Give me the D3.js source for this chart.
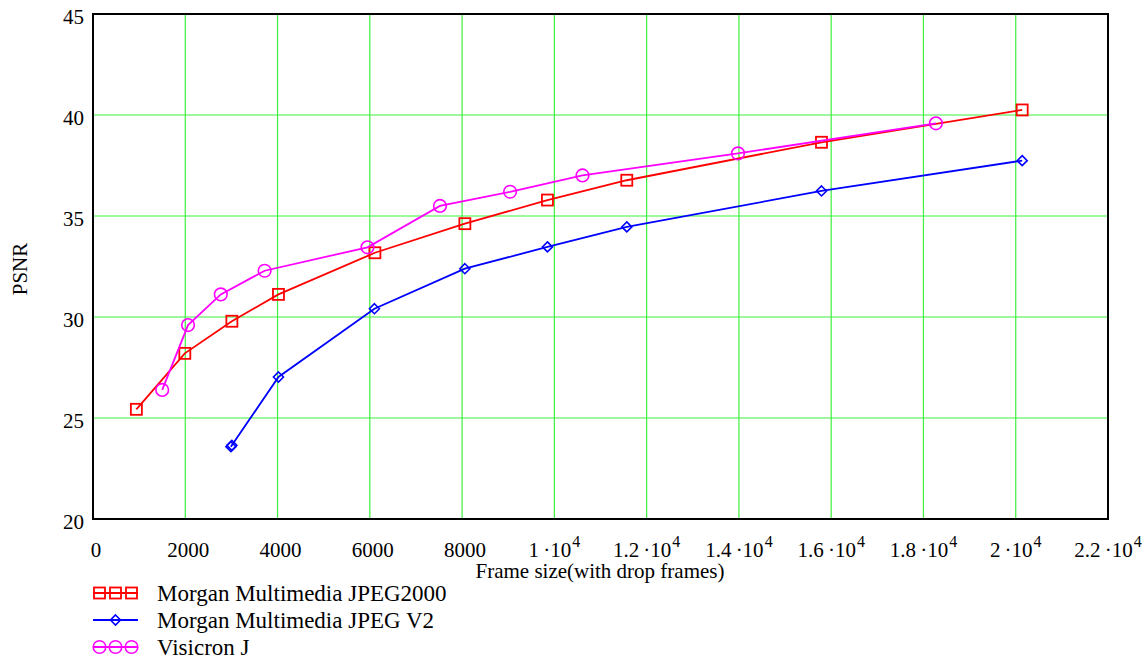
<!DOCTYPE html>
<html>
<head>
<meta charset="utf-8">
<script src="https://cdn.jsdelivr.net/npm/d3@7"></script>
<style>
  html, body { margin: 0; padding: 0; background: #fff; }
  svg { display: block; }
</style>
</head>
<body>
<svg id="chart" width="1144" height="662"></svg>
<script>
// ---- data ----
const seriesNames = ["Morgan Multimedia JPEG2000", "Morgan Multimedia JPEG V2", "Visicron J"];

const jpeg2000X = [940, 1990, 3010, 4020, 6110, 8060, 9850, 11570, 15790, 20140];
const jpeg2000Y = [25.43, 28.2, 29.79, 31.12, 33.18, 34.62, 35.79, 36.77, 38.65, 40.25];

const jpegV2X = [2990, 3010, 4020, 6100, 8060, 9850, 11570, 15790, 20140];
const jpegV2Y = [23.58, 23.65, 27.03, 30.41, 32.39, 33.47, 34.46, 36.24, 37.74];

const visicronX = [1500, 2060, 2770, 3720, 5950, 7520, 9040, 10610, 13980, 18270];
const visicronY = [26.39, 29.6, 31.12, 32.29, 33.45, 35.5, 36.2, 37.01, 38.1, 39.59];

const xTicks = [0, 2000, 4000, 6000, 8000, 10000, 12000, 14000, 16000, 18000, 20000, 22000];
const xTickMantissa = ["0", "2000", "4000", "6000", "8000", "1", "1.2", "1.4", "1.6", "1.8", "2", "2.2"];
const xTickExponent = ["", "", "", "", "", "4", "4", "4", "4", "4", "4", "4"];
const yTicks = [20, 25, 30, 35, 40, 45];

const xTitle = "Frame size(with drop frames)";
const yTitle = "PSNR";

// ---- layout ----
const FONT = "'Liberation Serif'";
const svg = d3.select("#chart");
const x = d3.scaleLinear().domain([0, 22000]).range([93, 1108]);
const y = d3.scaleLinear().domain([20, 45]).range([519, 14]);

const gridColor = "#3cf03c";
const colors = ["#ff0000", "#0000ff", "#ff00ff"];
const shapes = ["square", "diamond", "circle"];

// grid
svg.append("g").selectAll("line").data(xTicks.filter(t => t > 0 && t < 22000)).join("line")
  .attr("x1", d => x(d)).attr("x2", d => x(d))
  .attr("y1", y(20)).attr("y2", y(45))
  .attr("stroke", gridColor).attr("stroke-width", 1.2);
svg.append("g").selectAll("line").data(yTicks.filter(t => t > 20 && t < 45)).join("line")
  .attr("x1", x(0)).attr("x2", x(22000))
  .attr("y1", d => y(d)).attr("y2", d => y(d))
  .attr("stroke", gridColor).attr("stroke-width", 1.2);

// frame
svg.append("rect")
  .attr("x", x(0)).attr("y", y(45))
  .attr("width", x(22000) - x(0)).attr("height", y(20) - y(45))
  .attr("fill", "none").attr("stroke", "#000").attr("stroke-width", 2);

// y tick labels
svg.append("g").selectAll("text").data(yTicks).join("text")
  .attr("x", 84).attr("y", d => y(d) + 10)
  .attr("text-anchor", "end")
  .style("font-family", FONT).style("font-size", "21px")
  .text(d => d);

// x tick labels
const xl = svg.append("g").selectAll("text").data(xTicks).join("text")
  .attr("x", (d, i) => x(d) + (xTickExponent[i] ? 0 : 3)).attr("y", 557)
  .attr("text-anchor", "middle")
  .style("font-family", FONT).style("font-size", "21px");
xl.each(function(d, i) {
  const t = d3.select(this);
  if (xTickExponent[i]) {
    t.append("tspan").text(xTickMantissa[i] + "\u2009\u00b710");
    t.append("tspan").attr("dx", 1).attr("dy", -10).style("font-size", "16px").text(xTickExponent[i]);
  } else {
    t.text(xTickMantissa[i]);
  }
});

// axis titles
svg.append("text").attr("x", 600).attr("y", 578)
  .attr("text-anchor", "middle")
  .style("font-family", FONT).style("font-size", "21px").text(xTitle);
svg.append("text")
  .attr("transform", "translate(27,269) rotate(-90)")
  .attr("text-anchor", "middle")
  .style("font-family", FONT).style("font-size", "21px").text(yTitle);

// series
const allSeries = [
  jpeg2000X.map((v, i) => [v, jpeg2000Y[i]]),
  jpegV2X.map((v, i) => [v, jpegV2Y[i]]),
  visicronX.map((v, i) => [v, visicronY[i]])
];

const line = d3.line().x(d => x(d[0])).y(d => y(d[1]));

function drawMarker(g, shape, cx, cy, color) {
  if (shape === "square") {
    g.append("rect").attr("x", cx - 5.5).attr("y", cy - 5.5).attr("width", 11).attr("height", 11)
      .attr("fill", "none").attr("stroke", color).attr("stroke-width", 1.8);
  } else if (shape === "diamond") {
    g.append("path").attr("d", `M${cx},${cy - 5}L${cx + 5},${cy}L${cx},${cy + 5}L${cx - 5},${cy}Z`)
      .attr("fill", "none").attr("stroke", color).attr("stroke-width", 1.6);
  } else {
    g.append("circle").attr("cx", cx).attr("cy", cy).attr("r", 6.3)
      .attr("fill", "none").attr("stroke", color).attr("stroke-width", 1.6);
  }
}

allSeries.forEach((pts, si) => {
  const g = svg.append("g");
  g.append("path").datum(pts).attr("d", line)
    .attr("fill", "none").attr("stroke", colors[si]).attr("stroke-width", 1.8);
  pts.forEach(p => drawMarker(g, shapes[si], x(p[0]), y(p[1]), colors[si]));
});

// legend
const legendRows = [593, 620, 647];
seriesNames.forEach((name, i) => {
  const g = svg.append("g");
  const ly = legendRows[i];
  g.append("line").attr("x1", 93).attr("x2", 138).attr("y1", ly).attr("y2", ly)
    .attr("stroke", colors[i]).attr("stroke-width", 1.8);
  const mx = shapes[i] === "diamond" ? [115.5] : [99.5, 115.5, 131.5];
  mx.forEach(cx => drawMarker(g, shapes[i], cx, ly, colors[i]));
  g.append("text").attr("x", 157).attr("y", ly + 8)
    .style("font-family", FONT).style("font-size", "23px").text(name);
});
</script>
</body>
</html>
